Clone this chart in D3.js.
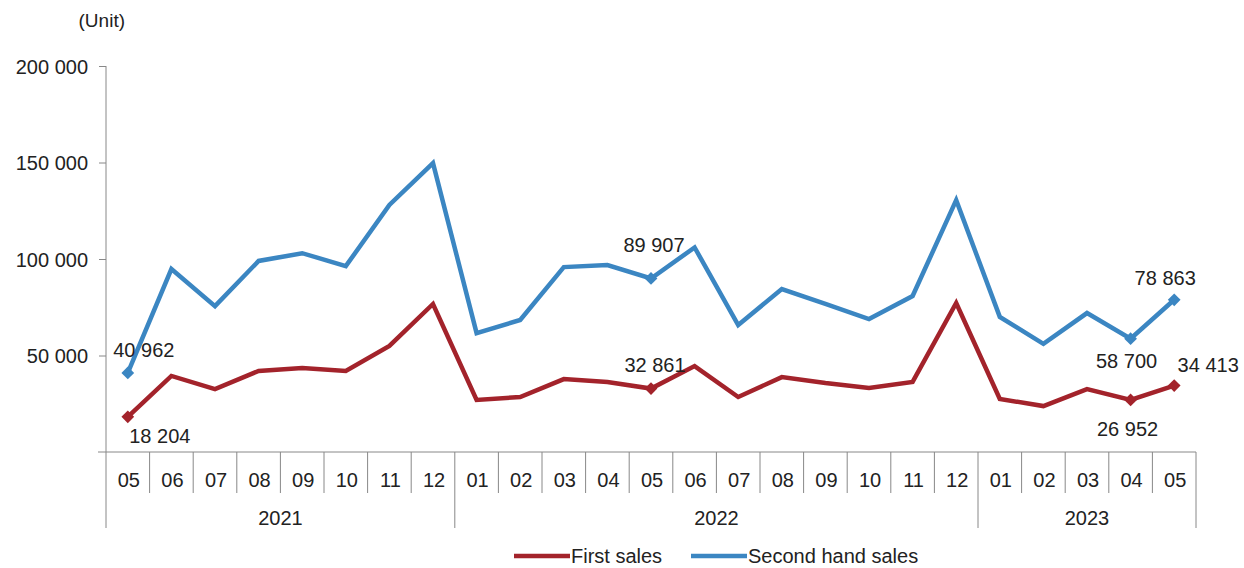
<!DOCTYPE html>
<html>
<head>
<meta charset="utf-8">
<script src="https://cdn.jsdelivr.net/npm/d3@7"></script>
<style>
  body { margin: 0; background: #fff; }
  text { font-family: "Liberation Sans", Arial, sans-serif; fill: #222; }
</style>
</head>
<body>
<div id="chart"></div>
<script>
var months = ["05","06","07","08","09","10","11","12",
              "01","02","03","04","05","06","07","08","09","10","11","12",
              "01","02","03","04","05"];
var years = [{label: "2021", start: 0, end: 8}, {label: "2022", start: 8, end: 20}, {label: "2023", start: 20, end: 25}];
var firstSales = [18204, 39400, 32600, 42000, 43500, 42000, 55000, 76700,
                  27000, 28500, 37800, 36300, 32861, 44500, 28500, 38800, 35700, 33200, 36300, 77200,
                  27500, 23800, 32600, 26952, 34413];
var secondHand = [40962, 94800, 75600, 99000, 103000, 96300, 128000, 149700,
                  61600, 68400, 95800, 96900, 89907, 106000, 65800, 84400, 76700, 68900, 80800, 130500,
                  70000, 56000, 72000, 58700, 78863];
var yTicks = [50000, 100000, 150000, 200000];

// which points carry a value label, and where the label centre sits relative to the point
var firstLabels = [{i: 0, dx: 32, dy: 19}, {i: 12, dx: 4, dy: -24}, {i: 23, dx: -3, dy: 29}, {i: 24, dx: 34, dy: -21}];
var secondLabels = [{i: 0, dx: 16, dy: -23}, {i: 12, dx: 3, dy: -33}, {i: 23, dx: -4, dy: 22}, {i: 24, dx: -9, dy: -22}];

var red = "#a3232b", blue = "#3b86c2";
var plotL = 106, plotR = 1196, plotT = 66, plotB = 452;

var svg = d3.select("#chart").append("svg")
    .attr("width", 1244).attr("height", 568);

var x = d3.scaleBand().domain(d3.range(months.length)).range([plotL, plotR]);
var y = d3.scaleLinear().domain([0, 200000]).range([plotB, plotT]);
var fmt = function(v){ return d3.format(",")(v).replace(/,/g, " "); };

// y axis
var yAxis = d3.axisLeft(y).tickValues(yTicks).tickSize(7).tickFormat(fmt);
var gy = svg.append("g").attr("transform", "translate(" + plotL + ",0)").call(yAxis);
gy.select(".domain").attr("stroke", "#888").attr("d", "M0," + plotT + "V528");
gy.selectAll(".tick line").attr("stroke", "#888");
gy.selectAll(".tick text").attr("x", -18).attr("dy", "0.35em").style("font-size", "20px");

svg.append("text").attr("x", 125).attr("y", 27).attr("text-anchor", "end")
   .style("font-size", "19px").text("(Unit)");

// x axis
svg.append("line").attr("x1", plotL - 8).attr("x2", plotR).attr("y1", plotB).attr("y2", plotB)
   .attr("stroke", "#888");
var seps = svg.append("g");
d3.range(1, months.length + 1).forEach(function(i){
  var isYear = years.some(function(yr){ return yr.end === i; });
  var xx = i === months.length ? plotR : x(i);
  seps.append("line").attr("x1", xx).attr("x2", xx).attr("y1", plotB)
      .attr("y2", isYear ? 528 : 493).attr("stroke", "#888");
});
svg.append("g").selectAll("text").data(months).join("text")
   .attr("x", function(d, i){ return x(i) + x.bandwidth() / 2 + 1; })
   .attr("y", 487).attr("text-anchor", "middle").style("font-size", "20px")
   .text(function(d){ return d; });
svg.append("g").selectAll("text").data(years).join("text")
   .attr("x", function(d){ return (x(d.start) + (d.end === months.length ? plotR : x(d.end))) / 2; })
   .attr("y", 525).attr("text-anchor", "middle").style("font-size", "20px")
   .text(function(d){ return d.label; });

// lines
var cx = function(d, i){ return x(i) + x.bandwidth() / 2; };
var line = d3.line().x(cx).y(function(d){ return y(d); });

function drawSeries(data, color, labels){
  svg.append("path").datum(data).attr("d", line).attr("fill", "none")
     .attr("stroke", color).attr("stroke-width", 4.5).attr("stroke-linejoin", "miter");
  labels.forEach(function(l){
    var px = cx(null, l.i), py = y(data[l.i]);
    svg.append("rect").attr("x", -4.5).attr("y", -4.5).attr("width", 9).attr("height", 9)
       .attr("transform", "translate(" + px + "," + py + ") rotate(45)").attr("fill", color);
    svg.append("text").attr("x", px + l.dx).attr("y", py + l.dy).attr("dy", "0.35em")
       .attr("text-anchor", "middle").style("font-size", "20px").text(fmt(data[l.i]));
  });
}
drawSeries(secondHand, blue, secondLabels);
drawSeries(firstSales, red, firstLabels);

// legend
var legend = [{name: "First sales", color: red, x: 514}, {name: "Second hand sales", color: blue, x: 691}];
var lg = svg.append("g").selectAll("g").data(legend).join("g")
   .attr("transform", function(d){ return "translate(" + d.x + ",556)"; });
lg.append("line").attr("x1", 0).attr("x2", 56).attr("stroke", function(d){ return d.color; })
  .attr("stroke-width", 4.5);
lg.append("text").attr("x", 57).attr("y", 0).attr("dy", "0.35em").style("font-size", "20px")
  .text(function(d){ return d.name; });
</script>
</body>
</html>
